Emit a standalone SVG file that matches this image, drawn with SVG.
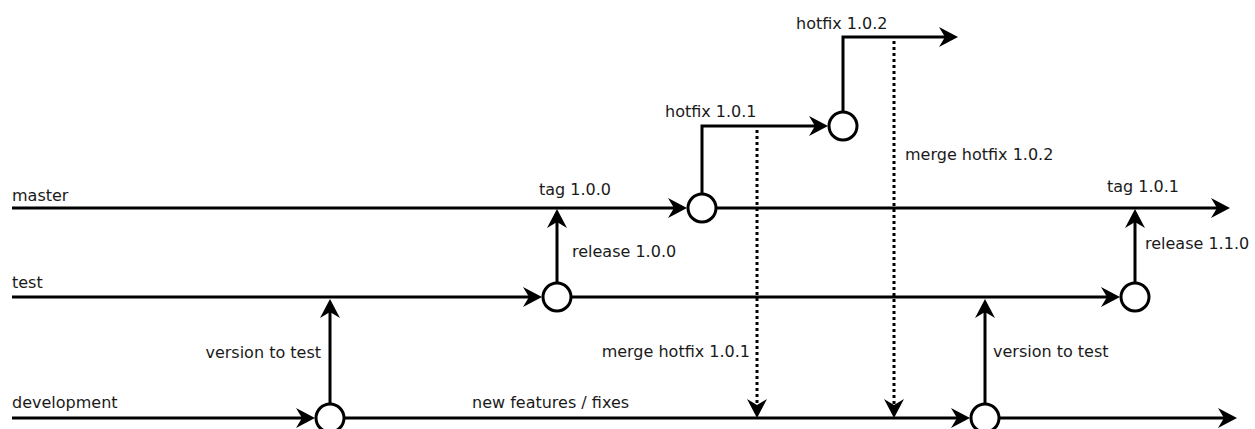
<svg xmlns="http://www.w3.org/2000/svg" width="1255" height="429" viewBox="0 0 1255 429">
  <style>
    .line { fill: none; stroke: #000; stroke-width: 3; }
    .merge { fill: none; stroke: #000; stroke-width: 3; stroke-dasharray: 3 3; }
    .commit { fill: #fff; stroke: #000; stroke-width: 3; }
    .label { font-family: "DejaVu Sans", Verdana, sans-serif; font-size: 16px; fill: #1a1a1a; }
    .end { text-anchor: end; }
  </style>
  <defs>
    <!-- notched arrowhead; tip sits 10px beyond the path end -->
    <marker id="arrow" viewBox="-10 -11 22 22" refX="0" refY="0" markerWidth="22" markerHeight="22" markerUnits="userSpaceOnUse" orient="auto">
      <path d="M10,0 L-9,-10 L-3,0 L-9,10 Z" fill="#000"/>
    </marker>
  </defs>

  <!-- branch lines and transitions -->
  <g id="connectors">
    <!-- master -->
    <path class="line" d="M12,208 H677" marker-end="url(#arrow)"/>
    <path class="line" d="M716,208 H1220" marker-end="url(#arrow)"/>
    <!-- test -->
    <path class="line" d="M12,297 H532" marker-end="url(#arrow)"/>
    <path class="line" d="M571,297 H1110" marker-end="url(#arrow)"/>
    <!-- development -->
    <path class="line" d="M12,418 H305" marker-end="url(#arrow)"/>
    <path class="line" d="M344,418 H960" marker-end="url(#arrow)"/>
    <path class="line" d="M999,418 H1227" marker-end="url(#arrow)"/>
    <!-- hotfix branches -->
    <path class="line" d="M702,194 V126 H818" marker-end="url(#arrow)"/>
    <path class="line" d="M843,112 V37 H948" marker-end="url(#arrow)"/>
    <!-- promotions -->
    <path class="line" d="M330,404 V309" marker-end="url(#arrow)"/>
    <path class="line" d="M557,283 V219" marker-end="url(#arrow)"/>
    <path class="line" d="M1135,283 V219" marker-end="url(#arrow)"/>
    <path class="line" d="M985,404 V309" marker-end="url(#arrow)"/>
    <!-- hotfix merges back into development -->
    <path class="merge" d="M757,130 V408" marker-end="url(#arrow)"/>
    <path class="merge" d="M894,41 V408" marker-end="url(#arrow)"/>
  </g>

  <!-- commits -->
  <g id="dev-commit-1"><circle class="commit" cx="330" cy="418" r="14"/></g>
  <g id="test-commit-1"><circle class="commit" cx="557" cy="297" r="14"/></g>
  <g id="master-commit-1"><circle class="commit" cx="702" cy="208" r="14"/></g>
  <g id="hotfix-commit-1"><circle class="commit" cx="843" cy="126" r="14"/></g>
  <g id="test-commit-2"><circle class="commit" cx="1135" cy="297" r="14"/></g>
  <g id="dev-commit-2"><circle class="commit" cx="985" cy="418" r="14"/></g>

  <!-- labels -->
  <g id="labels">
    <text class="label" x="12" y="201">master</text>
    <text class="label" x="12" y="288">test</text>
    <text class="label" x="12" y="408">development</text>
    <text class="label end" x="321" y="358">version to test</text>
    <text class="label" x="539" y="195">tag 1.0.0</text>
    <text class="label" x="572" y="257">release 1.0.0</text>
    <text class="label" x="665" y="117">hotfix 1.0.1</text>
    <text class="label" x="796" y="29">hotfix 1.0.2</text>
    <text class="label" x="905" y="160">merge hotfix 1.0.2</text>
    <text class="label end" x="750" y="357">merge hotfix 1.0.1</text>
    <text class="label" x="472" y="408">new features / fixes</text>
    <text class="label" x="1107" y="192">tag 1.0.1</text>
    <text class="label" x="1145" y="249">release 1.1.0</text>
    <text class="label" x="993" y="357">version to test</text>
  </g>
</svg>
